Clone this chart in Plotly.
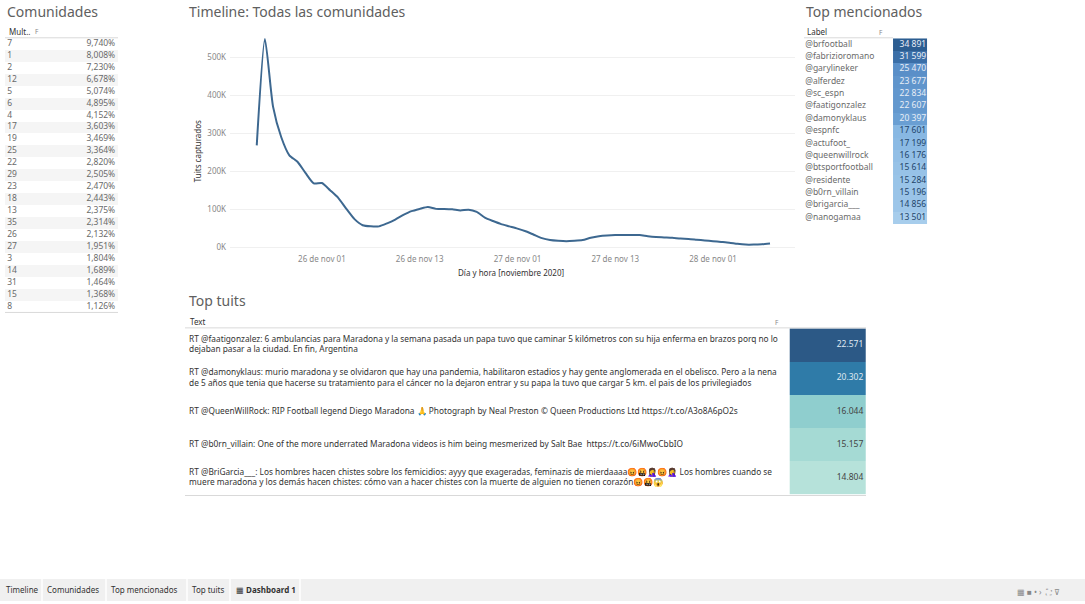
import plotly.graph_objects as go
import pandas as pd

W, H = 1085, 604
FONT = "Noto Sans"


def fx(x):
    return x / W


def fy(y):
    return 1 - y / H


# ---------------- data ----------------
hours = pd.date_range("2020-11-25 17:00", periods=64, freq="h")
tuits = [268000, 548000, 370000, 290000, 242000, 225000, 195000, 168000,
         169000, 150000, 130000, 101000, 74000, 58000, 55000, 55000,
         63000, 73000, 85000, 95000, 101000, 106000, 101000, 101000,
         100000, 97000, 99000, 93000, 78000, 69000, 61000, 55000,
         49000, 42000, 33000, 24000, 19000, 17000, 16000, 17000,
         19000, 25000, 29000, 31000, 32000, 32000, 32000, 32000,
         29000, 27000, 26000, 25000, 23000, 22000, 20000, 18000,
         16000, 14000, 12000, 9000, 7000, 7000, 8000, 10000]
x_ticks = ["2020-11-26 01:00", "2020-11-26 13:00", "2020-11-27 01:00",
           "2020-11-27 13:00", "2020-11-28 01:00"]
x_ticktext = ["26 de nov 01", "26 de nov 13", "27 de nov 01",
              "27 de nov 13", "28 de nov 01"]
y_ticks = [0, 100000, 200000, 300000, 400000, 500000]
y_ticktext = ["0K", "100K", "200K", "300K", "400K", "500K"]

comunidades = ["7", "1", "2", "12", "5", "6", "4", "17", "19", "25", "22", "29",
               "23", "18", "13", "35", "26", "27", "3", "14", "31", "15", "8"]
porcentajes = [9.740, 8.008, 7.230, 6.678, 5.074, 4.895, 4.152, 3.603, 3.469,
               3.364, 2.820, 2.505, 2.470, 2.443, 2.375, 2.314, 2.132, 1.951,
               1.804, 1.689, 1.464, 1.368, 1.126]

mencionados = ["@brfootball", "@fabrizioromano", "@garylineker", "@alferdez",
               "@sc_espn", "@faatigonzalez", "@damonyklaus", "@espnfc",
               "@actufoot_", "@queenwillrock", "@btsportfootball", "@residente",
               "@b0rn_villain", "@brigarcia___", "@nanogamaa"]
menciones = [34891, 31599, 25470, 23677, 22834, 22607, 20397, 17601, 17199,
             16176, 15614, 15284, 15196, 14856, 13501]

tuits_texto = [
    "RT @faatigonzalez: 6 ambulancias para Maradona y la semana pasada un papa tuvo que caminar 5 kilómetros con su hija enferma en brazos porq no lo<br>dejaban pasar a la ciudad. En fin, Argentina",
    "RT @damonyklaus: murio maradona y se olvidaron que hay una pandemia, habilitaron estadios y hay gente anglomerada en el obelisco. Pero a la nena<br>de 5 años que tenia que hacerse su tratamiento para el cáncer no la dejaron entrar y su papa la tuvo que cargar 5 km. el pais de los privilegiados",
    "RT @QueenWillRock: RIP Football legend Diego Maradona 🙏 Photograph by Neal Preston © Queen Productions Ltd https://t.co/A3o8A6pO2s",
    "RT @b0rn_villain: One of the more underrated Maradona videos is him being mesmerized by Salt Bae  https://t.co/6iMwoCbbIO",
    "RT @BriGarcia___: Los hombres hacen chistes sobre los femicidios: ayyy que exageradas, feminazis de mierdaaaa😡🤬🤦‍♀️😡🤦‍♀️ Los hombres cuando se<br>muere maradona y los demás hacen chistes: cómo van a hacer chistes con la muerte de alguien no tienen corazón😡🤬😱",
]
retuits = [22571, 20302, 16044, 15157, 14804]

tabs = ["Timeline", "Comunidades", "Top mencionados", "Top tuits", "▦ <b>Dashboard 1</b>"]


def fmt_pct(v):
    return f"{v:.3f}".replace(".", ",") + "%"


def fmt_space(v):
    return f"{v:,}".replace(",", " ")


def fmt_dot(v):
    return f"{v:,}".replace(",", ".")


fig = go.Figure()

# ---------------- timeline ----------------
fig.add_trace(go.Scatter(x=hours, y=tuits, mode="lines",
                         line=dict(color="#3d6890", width=2, shape="spline", smoothing=0.6),
                         xaxis="x", yaxis="y", hoverinfo="skip"))

# ---------------- comunidades table ----------------
n_c = len(comunidades)
fig.add_trace(go.Heatmap(z=[[i % 2] for i in range(n_c)], x=[0, 1],
                         y=[i - 0.5 for i in range(n_c + 1)],
                         colorscale=[[0, "#ffffff"], [1, "#f5f5f5"]], showscale=False,
                         xaxis="x2", yaxis="y2", hoverinfo="skip"))
fig.add_trace(go.Scatter(x=[0.02] * n_c, y=list(range(n_c)), mode="text", text=comunidades,
                         textposition="middle right",
                         textfont=dict(family=FONT, size=8.5, color="#6a6a6a"),
                         xaxis="x2", yaxis="y2", hoverinfo="skip"))
fig.add_trace(go.Scatter(x=[0.975] * n_c, y=list(range(n_c)), mode="text",
                         text=[fmt_pct(v) for v in porcentajes],
                         textposition="middle left",
                         textfont=dict(family=FONT, size=8.5, color="#6a6a6a"),
                         xaxis="x2", yaxis="y2", hoverinfo="skip"))

# ---------------- top mencionados ----------------
n_m = len(mencionados)
fig.add_trace(go.Heatmap(z=[[v] for v in menciones], x=[0.718, 0.992],
                         y=[i - 0.5 for i in range(n_m + 1)],
                         zmin=min(menciones), zmax=max(menciones),
                         colorscale=[[0, "#a7cdec"], [0.19, "#88b8e3"], [0.32, "#6a9fd3"],
                                     [0.56, "#5a8fc8"], [0.85, "#3b6fa8"], [1, "#2c5d91"]],
                         showscale=False, xaxis="x3", yaxis="y3", hoverinfo="skip"))
fig.add_trace(go.Scatter(x=[0.01] * n_m, y=list(range(n_m)), mode="text", text=mencionados,
                         textposition="middle right",
                         textfont=dict(family=FONT, size=8.5, color="#6a6a6a"),
                         xaxis="x3", yaxis="y3", hoverinfo="skip"))
fig.add_trace(go.Scatter(x=[0.985] * n_m, y=list(range(n_m)), mode="text",
                         text=[fmt_space(v) for v in menciones],
                         textposition="middle left",
                         textfont=dict(family=FONT, size=8.5,
                                       color=["#e8eef6" if v >= 20000 else "#23456b" for v in menciones]),
                         xaxis="x3", yaxis="y3", hoverinfo="skip"))

# ---------------- top tuits ----------------
n_t = len(tuits_texto)
fig.add_trace(go.Heatmap(z=[[v] for v in retuits], x=[0.888, 1.0],
                         y=[i - 0.5 for i in range(n_t + 1)],
                         zmin=min(retuits), zmax=max(retuits),
                         colorscale=[[0, "#b6e2da"], [0.045, "#a5dad4"], [0.16, "#8fcece"],
                                     [0.71, "#2f7ba8"], [1, "#2c5986"]],
                         showscale=False, xaxis="x4", yaxis="y4", hoverinfo="skip"))
fig.add_trace(go.Scatter(x=[0.006] * n_t, y=list(range(n_t)), mode="text", text=tuits_texto,
                         textposition="middle right",
                         textfont=dict(family=FONT, size=8.3, color="#333333"),
                         xaxis="x4", yaxis="y4", hoverinfo="skip"))
fig.add_trace(go.Scatter(x=[0.996] * n_t, y=list(range(n_t)), mode="text",
                         text=[fmt_dot(v) for v in retuits],
                         textposition="middle left",
                         textfont=dict(family=FONT, size=8.5,
                                       color=["#dfe8f1" if v >= 20000 else "#444444" for v in retuits]),
                         xaxis="x4", yaxis="y4", hoverinfo="skip"))

hidden = dict(visible=False, fixedrange=True)

fig.update_layout(
    width=W, height=604, margin=dict(l=0, r=0, t=0, b=0),
    paper_bgcolor="white", plot_bgcolor="white", showlegend=False,
    font=dict(family=FONT, color="#555555"),
    xaxis=dict(domain=[fx(230), fx(795)], type="date",
               range=["2020-11-25 13:43", "2020-11-28 11:04"],
               tickvals=x_ticks, ticktext=x_ticktext, showgrid=False, zeroline=False,
               showline=False, ticks="", ticklabelstandoff=4,
               tickfont=dict(size=8, color="#888888")),
    yaxis=dict(domain=[fy(250), fy(30)], range=[-3900, 572000],
               tickvals=y_ticks, ticktext=y_ticktext, showgrid=True, gridcolor="#f0f0f0",
               gridwidth=1, zeroline=False, showline=False, ticks="", ticklabelstandoff=3,
               tickfont=dict(size=8, color="#888888")),
    xaxis2=dict(domain=[fx(5), fx(118)], range=[0, 1], **hidden),
    yaxis2=dict(domain=[fy(314), fy(38)], range=[n_c - 0.5, -0.5], **hidden),
    xaxis3=dict(domain=[fx(804), fx(928)], range=[0, 1], **hidden),
    yaxis3=dict(domain=[fy(225), fy(38.5)], range=[n_m - 0.5, -0.5], **hidden),
    xaxis4=dict(domain=[fx(185), fx(866)], range=[0, 1], **hidden),
    yaxis4=dict(domain=[fy(497), fy(330)], range=[n_t - 0.5, -0.5], **hidden),
)

ann = []


def text(x, y, s, size=9, color="#555555", xanchor="left", **kw):
    ann.append(dict(x=fx(x), y=fy(y), xref="paper", yref="paper", text=s, showarrow=False,
                    xanchor=xanchor, yanchor="middle", font=dict(family=FONT, size=size, color=color), **kw))


# titles
text(5, 12, "Comunidades", size=14, color="#606060")
text(187, 12, "Timeline: Todas las comunidades", size=14, color="#606060")
text(804, 12, "Top mencionados", size=14, color="#606060")
text(187, 302, "Top tuits", size=14, color="#606060")

# headers
text(7, 32, "Mult..", size=8, color="#333333")
text(33, 32, "F", size=6.5, color="#888888")
text(805, 32, "Label", size=8, color="#333333")
text(877, 33, "F", size=6.5, color="#888888")
text(188, 323, "Text", size=8, color="#333333")
text(773, 324, "F", size=6.5, color="#888888")

# axis titles
text(511, 274, "Día y hora [noviembre 2020]", size=8, color="#333333", xanchor="center")
ann.append(dict(x=fx(197), y=fy(152), xref="paper", yref="paper", text="Tuits capturados",
                showarrow=False, textangle=-90, xanchor="center", yanchor="middle",
                font=dict(family=FONT, size=8, color="#333333")))

# tabs
tab_x = [4, 45, 109, 190, 234]
for tx, tl in zip(tab_x, tabs):
    text(tx, 592, tl, size=8, color="#333333")
text(1015, 594, "▦ ■ • ›  ⛶ ⊽", size=8, color="#888888")

fig.update_layout(annotations=ann)

shapes = []


def hline(x0, x1, y, color="#d9d9d9", width=1):
    shapes.append(dict(type="line", xref="paper", yref="paper", x0=fx(x0), x1=fx(x1),
                       y0=fy(y), y1=fy(y), line=dict(color=color, width=width)))


hline(5, 118, 38)
hline(5, 118, 314)
hline(804, 893, 38)
hline(185, 866, 329.5)
hline(185, 866, 498)
# tab bar
shapes.append(dict(type="rect", xref="paper", yref="paper", x0=0, x1=1, y0=0, y1=fy(582),
                   fillcolor="#f0f0f0", line=dict(width=0), layer="below"))
for sx in [42, 106, 187, 230, 300]:
    shapes.append(dict(type="line", xref="paper", yref="paper", x0=fx(sx), x1=fx(sx),
                       y0=0, y1=fy(582), line=dict(color="#ffffff", width=1.5)))
fig.update_layout(shapes=shapes)

fig.write_html("out.html")
